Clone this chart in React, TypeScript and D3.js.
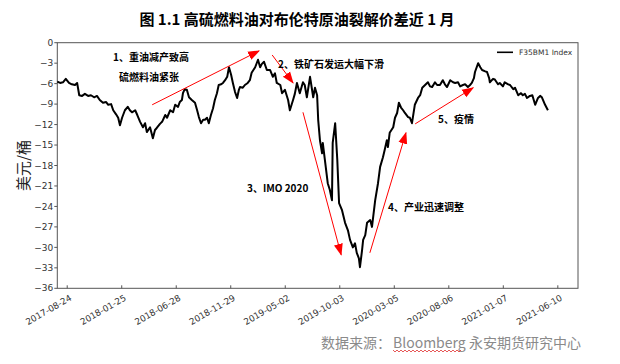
import * as d3 from "d3";

// F35BM1 Index, USD/bbl
const dates = [
  "2017-07-27", "2017-08-04", "2017-08-12", "2017-08-20", "2017-08-29", "2017-09-06", "2017-09-15", "2017-09-21",
  "2017-09-27", "2017-10-05", "2017-10-13", "2017-10-22", "2017-10-30", "2017-11-08", "2017-11-16", "2017-11-24",
  "2017-12-03", "2017-12-12", "2017-12-18", "2017-12-26", "2018-01-01", "2018-01-09", "2018-01-15", "2018-01-20",
  "2018-01-26", "2018-02-03", "2018-02-11", "2018-02-17", "2018-02-23", "2018-03-04", "2018-03-10", "2018-03-18",
  "2018-03-26", "2018-04-01", "2018-04-06", "2018-04-15", "2018-04-23", "2018-04-29", "2018-05-04", "2018-05-13",
  "2018-05-19", "2018-05-28", "2018-06-02", "2018-06-11", "2018-06-19", "2018-06-25", "2018-07-03", "2018-07-08",
  "2018-07-14", "2018-07-17", "2018-07-22", "2018-07-28", "2018-08-03", "2018-08-11", "2018-08-20", "2018-08-26",
  "2018-08-31", "2018-09-06", "2018-09-12", "2018-09-17", "2018-09-23", "2018-09-28", "2018-10-04", "2018-10-10",
  "2018-10-15", "2018-10-21", "2018-10-26", "2018-11-02", "2018-11-07", "2018-11-13", "2018-11-19", "2018-11-24",
  "2018-11-30", "2018-12-05", "2018-12-11", "2018-12-17", "2018-12-22", "2018-12-25", "2019-01-02", "2019-01-08",
  "2019-01-16", "2019-01-22", "2019-01-27", "2019-02-06", "2019-02-14", "2019-02-20", "2019-02-25", "2019-03-03",
  "2019-03-11", "2019-03-20", "2019-03-28", "2019-04-03", "2019-04-08", "2019-04-18", "2019-04-23", "2019-05-01",
  "2019-05-10", "2019-05-15", "2019-05-24", "2019-05-29", "2019-06-04", "2019-06-12", "2019-06-21", "2019-06-26",
  "2019-07-02", "2019-07-11", "2019-07-20", "2019-07-25", "2019-07-31", "2019-08-03", "2019-08-08", "2019-08-14",
  "2019-08-16", "2019-08-22", "2019-08-30", "2019-09-05", "2019-09-11", "2019-09-13", "2019-09-20", "2019-09-26",
  "2019-10-01", "2019-10-09", "2019-10-18", "2019-10-26", "2019-11-01", "2019-11-09", "2019-11-15", "2019-11-20",
  "2019-11-26", "2019-11-29", "2019-12-05", "2019-12-08", "2019-12-14", "2019-12-19", "2019-12-28", "2020-01-02",
  "2020-01-11", "2020-01-19", "2020-01-25", "2020-02-02", "2020-02-07", "2020-02-13", "2020-02-16", "2020-02-21",
  "2020-03-02", "2020-03-07", "2020-03-13", "2020-03-18", "2020-03-24", "2020-03-30", "2020-04-04", "2020-04-13",
  "2020-04-18", "2020-04-24", "2020-05-02", "2020-05-11", "2020-05-17", "2020-05-23", "2020-05-31", "2020-06-08",
  "2020-06-14", "2020-06-20", "2020-06-28", "2020-07-04", "2020-07-12", "2020-07-20", "2020-07-26", "2020-08-01",
  "2020-08-10", "2020-08-18", "2020-08-24", "2020-09-01", "2020-09-07", "2020-09-15", "2020-09-21", "2020-09-29",
  "2020-10-05", "2020-10-10", "2020-10-16", "2020-10-19", "2020-10-28", "2020-11-03", "2020-11-08", "2020-11-17",
  "2020-11-22", "2020-11-28", "2020-11-30", "2020-12-09", "2020-12-14", "2020-12-23", "2020-12-28", "2021-01-06",
  "2021-01-11", "2021-01-21", "2021-01-26", "2021-02-04", "2021-02-09", "2021-02-18", "2021-02-26", "2021-03-03",
  "2021-03-09", "2021-03-15", "2021-03-23", "2021-03-30", "2021-04-07", "2021-04-15", "2021-04-21", "2021-04-26",
  "2021-05-05", "2021-05-13",
];

const values = [
  -5.7, -5.9, -5.8, -5.3, -5.9, -6.1, -6.2, -5.9,
  -7.7, -7.8, -7.5, -7.8, -7.7, -8.0, -7.8, -8.4,
  -8.8, -8.7, -9.1, -9.0, -9.9, -10.5, -11.0, -12.1,
  -11.0, -9.9, -9.4, -9.9, -10.2, -9.9, -10.6, -11.6,
  -12.4, -11.8, -13.1, -12.4, -14.0, -12.8, -12.5, -11.9,
  -11.6, -10.6, -11.0, -9.9, -10.2, -9.1, -9.4, -8.7,
  -8.4, -7.4, -6.8, -6.9, -8.0, -8.4, -8.8, -9.9,
  -10.9, -11.8, -11.3, -11.3, -11.0, -11.8, -10.6, -9.6,
  -8.4, -7.4, -6.2, -6.1, -5.9, -5.5, -5.0, -3.6,
  -4.7, -5.9, -7.2, -8.1, -6.9, -6.5, -6.6, -6.2,
  -5.9, -5.5, -4.4, -3.6, -2.5, -3.6, -3.1, -2.8,
  -4.0, -4.0, -5.0, -4.5, -5.9, -6.2, -7.4, -6.9,
  -8.4, -9.9, -8.4, -7.5, -5.9, -7.4, -5.8, -6.2,
  -8.0, -5.0, -8.0, -6.6, -7.7, -11.3, -14.3, -16.2,
  -14.7, -17.2, -20.6, -21.6, -23.1, -14.7, -11.8, -17.2,
  -23.5, -24.5, -26.4, -27.5, -28.9, -30.0, -29.4, -30.8,
  -31.6, -32.9, -30.4, -28.9, -28.2, -26.4, -26.0, -27.0,
  -23.1, -20.6, -18.2, -16.8, -15.7, -14.3, -15.3, -13.2,
  -12.4, -11.0, -10.3, -8.8, -9.5, -9.9, -10.3, -10.9,
  -11.0, -11.8, -9.1, -8.1, -7.7, -6.6, -6.2, -5.8,
  -6.4, -6.5, -5.8, -6.2, -6.2, -5.5, -6.1, -6.5,
  -5.5, -5.8, -5.9, -5.8, -6.4, -6.2, -6.1, -6.5,
  -6.2, -5.9, -5.2, -4.3, -3.0, -3.6, -4.0, -4.2,
  -4.3, -5.2, -5.8, -5.3, -5.4, -6.1, -5.9, -6.4,
  -5.8, -6.1, -6.2, -6.8, -6.6, -7.7, -7.4, -7.7,
  -7.5, -8.1, -7.8, -7.7, -9.1, -8.1, -7.8, -8.0,
  -9.1, -9.9,
];

const xTicks = [
  "2017-08-24", "2018-01-25", "2018-06-28", "2018-11-29", "2019-05-02",
  "2019-10-03", "2020-03-05", "2020-08-06", "2021-01-07", "2021-06-10",
];
const yTicks = [0, -3, -6, -9, -12, -15, -18, -21, -24, -27, -30, -33, -36];

// arrows: [from date, from value, to date, to value]
const arrows: [string, number, string, number][] = [
  ["2018-04-21", -9.1, "2019-02-17", -1.2],
  ["2019-03-26", -1.8, "2019-05-24", -5.9],
  ["2019-06-21", -10.2, "2019-10-07", -31.1],
  ["2019-12-27", -30.8, "2020-04-07", -13.2],
  ["2020-05-03", -11.9, "2020-10-14", -6.6],
];

const notes = [
  { text: "1、重油减产致高", x: 113, y: 57 },
  { text: "硫燃料油紧张", x: 119, y: 77 },
  { text: "2、铁矿石发运大幅下滑", x: 278, y: 64 },
  { text: "3、IMO 2020", x: 247, y: 188 },
  { text: "4、产业迅速调整", x: 388, y: 207 },
  { text: "5、疫情", x: 438, y: 119 },
];

const parse = d3.timeParse("%Y-%m-%d");
const cjk = "'Noto Sans CJK SC', 'Noto Sans', sans-serif";
const dejavu = "'DejaVu Sans', sans-serif";

export default function App() {
  const left = 57.3, right = 578, top = 42.7, bottom = 288.3;

  const x = d3
    .scaleTime()
    .domain([parse("2017-07-27")!, parse("2021-08-06")!])
    .range([left, right]);
  const y = d3.scaleLinear().domain([-36, 0]).range([bottom, top]);

  const pts = dates.map((d, i) => [x(parse(d)!), y(values[i])] as [number, number]);
  const path = d3.line()(pts) || "";

  // wavy spell-check underline under "Bloomberg"
  const wave: [number, number][] = [];
  for (let px = 393; px <= 461; px += 2) wave.push([px, px % 4 === 1 ? 350 : 352]);
  const wavePath = d3.line()(wave) || "";

  return (
    <svg
      width={620}
      height={364}
      style={{ position: "absolute", left: 0, top: 0, background: "#fff" }}
    >
      <defs>
        <marker
          id="ah"
          markerUnits="userSpaceOnUse"
          markerWidth={12}
          markerHeight={12}
          viewBox="0 0 12 12"
          refX={11}
          refY={6}
          orient="auto"
        >
          <path d="M0,1.5 L12,6 L0,10.5 Z" fill="#ff0000" />
        </marker>
      </defs>

      <text
        x={297}
        y={25}
        textAnchor="middle"
        fontFamily={cjk}
        fontWeight="bold"
        fontSize={15}
        fill="#000"
      >
        图 1.1 高硫燃料油对布伦特原油裂解价差近 1 月
      </text>

      {/* frame */}
      <rect x={left} y={top} width={right - left} height={bottom - top} fill="none" stroke="#555" strokeWidth={1} />

      {/* y axis */}
      {yTicks.map((t) => (
        <g key={t}>
          <line x1={left - 3} x2={left} y1={y(t)} y2={y(t)} stroke="#555" />
          <text
            x={left - 4}
            y={y(t)}
            dy="0.35em"
            textAnchor="end"
            fontFamily={dejavu}
            fontSize={9}
            fill="#333"
          >
            {t === 0 ? "0" : "\u2212" + Math.abs(t)}
          </text>
        </g>
      ))}
      <text
        transform={`translate(24,${(top + bottom) / 2}) rotate(-90)`}
        textAnchor="middle"
        dy="0.35em"
        fontFamily={cjk}
        fontSize={15}
        fill="#222"
      >
        美元/桶
      </text>

      {/* x axis */}
      {xTicks.map((t) => {
        const px = x(parse(t)!);
        return (
          <g key={t}>
            <line x1={px} x2={px} y1={bottom} y2={bottom - 3} stroke="#555" />
            <text
              transform={`translate(${px + 2},${bottom + 6}) rotate(-30)`}
              textAnchor="end"
              dy="0.7em"
              fontFamily={dejavu}
              fontSize={8.8}
              fill="#333"
            >
              {t}
            </text>
          </g>
        );
      })}

      {/* series */}
      <path d={path} fill="none" stroke="#000" strokeWidth={2} strokeLinejoin="round" />

      {/* legend */}
      <line x1={497} x2={513} y1={52.3} y2={52.3} stroke="#000" strokeWidth={1.6} />
      <text x={519} y={52.3} dy="0.35em" fontFamily={dejavu} fontSize={7.5} fill="#333">
        F35BM1 Index
      </text>

      {/* arrows */}
      {arrows.map(([d0, v0, d1, v1], i) => (
        <line
          key={i}
          x1={x(parse(d0)!)}
          y1={y(v0)}
          x2={x(parse(d1)!)}
          y2={y(v1)}
          stroke="#ff0000"
          strokeWidth={1}
          markerEnd="url(#ah)"
        />
      ))}

      {notes.map((n) => (
        <text
          key={n.text}
          x={n.x}
          y={n.y}
          dy="0.35em"
          fontFamily={cjk}
          fontWeight="bold"
          fontSize={10}
          fill="#000"
        >
          {n.text}
        </text>
      ))}

      {/* source */}
      <text y={343} dy="0.35em" fontFamily={cjk} fontSize={14} fill="#8a8a8a">
        <tspan x={321}>数据来源：</tspan>
        <tspan x={393}>Bloomberg</tspan>
        <tspan x={469}>永安期货研究中心</tspan>
      </text>
      <path d={wavePath} fill="none" stroke="#e03030" strokeWidth={0.8} />
    </svg>
  );
}
